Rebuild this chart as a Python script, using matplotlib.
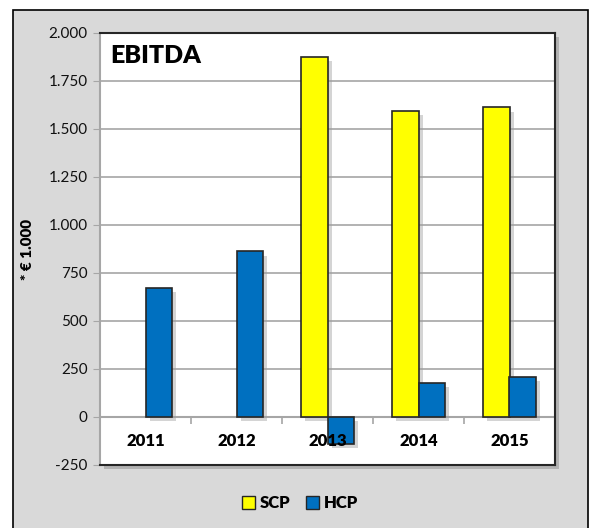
import numpy as np
import matplotlib
matplotlib.use("Agg")
import matplotlib.pyplot as plt
import matplotlib.patheffects as pe
from matplotlib.patches import Rectangle, Patch
from matplotlib.ticker import FuncFormatter

plt.rcParams['font.family'] = ['Lato', 'DejaVu Sans']

years = ["2011", "2012", "2013", "2014", "2015"]
scp = [np.nan, np.nan, 1875, 1595, 1612]
hcp = [674, 862, -139, 179, 208]
yticks = list(range(-250, 2001, 250))

fig = plt.figure(figsize=(5.9, 5.28), dpi=100)
fig.patch.set_facecolor("white")
# grey chart area with black border
fig.patches.append(Rectangle((13 / 590, -0.01), 575 / 590, 1 - 10 / 528 + 0.01,
                             transform=fig.transFigure, facecolor="#D9D9D9",
                             edgecolor="black", lw=1.2, zorder=-10))

ax = fig.add_axes([100 / 590, 1 - 465 / 528, 455 / 590, 432 / 528])
ax.set_facecolor("white")
ax.patch.set_path_effects([pe.SimplePatchShadow(offset=(3, -3), shadow_rgbFace="#8c8c8c", alpha=0.5), pe.Normal()])

x = np.arange(len(years))
w = 0.29
shadow = [pe.SimplePatchShadow(offset=(3, -3), shadow_rgbFace="#a0a0a0", alpha=0.45), pe.Normal()]
sx = [i for i, v in enumerate(scp) if not np.isnan(v)]
ax.bar(np.array(sx) - w / 2, [scp[i] for i in sx], w, color="#FFFF00", edgecolor="#262626",
       lw=1.2, zorder=3, path_effects=shadow)
ax.bar(x + w / 2, hcp, w, color="#0070C0", edgecolor="#262626", lw=1.2, zorder=3,
       path_effects=shadow)

ax.set_xlim(-0.5, len(years) - 0.5)
ax.set_ylim(-250, 2000)
ax.set_yticks(yticks)
ax.yaxis.set_major_formatter(FuncFormatter(lambda v, p: f"{v:,.0f}".replace(",", ".")))
ax.grid(axis="y", color="#A6A6A6", lw=1.2, zorder=0)
ax.set_axisbelow(True)
ax.tick_params(axis="y", length=5, color="#A6A6A6", labelsize=11, labelcolor="#111111", pad=4)

# category axis sits on the zero line
ax.spines["bottom"].set_position(("data", 0))
ax.spines["bottom"].set_color("#A6A6A6")
ax.spines["bottom"].set_linewidth(1.5)
ax.spines["bottom"].set_zorder(2)
ax.set_xticks(x)
ax.set_xticklabels([])
ax.set_xticks(np.arange(-0.5, len(years)), minor=True)
ax.tick_params(axis="x", which="major", length=0)
ax.tick_params(axis="x", which="minor", length=5, color="#A6A6A6", width=1.2)
for i, yr in enumerate(years):
    ax.text(i, -125, yr, ha="center", va="center", fontsize=12, fontweight="heavy", zorder=10)

ax.spines["left"].set_color("#A6A6A6")
ax.spines["left"].set_linewidth(1.5)
for s in ["top", "right"]:
    ax.spines[s].set_color("#262626")
    ax.spines[s].set_linewidth(1.5)
ax.plot([0, 1], [0, 0], transform=ax.transAxes, color="#262626", lw=1.5, clip_on=False, zorder=5)

ax.text(0.022, 0.947, "EBITDA", transform=ax.transAxes, fontsize=18, fontweight="heavy",
        va="center", ha="left")
fig.text(27 / 590, 1 - 250 / 528, "* € 1.000", rotation=90, fontsize=11, fontweight="heavy",
         va="center", ha="center")

handles = [Patch(facecolor="#FFFF00", edgecolor="#262626"), Patch(facecolor="#0070C0", edgecolor="#262626")]
leg = fig.legend(handles, ["SCP", "HCP"], loc="center", bbox_to_anchor=(300 / 590, 1 - 503 / 528),
                 ncol=2, frameon=False, handlelength=0.8, handleheight=0.8, handletextpad=0.3,
                 columnspacing=0.9, prop={"weight": "heavy", "size": 12})

fig.savefig("out.png", dpi=100)
